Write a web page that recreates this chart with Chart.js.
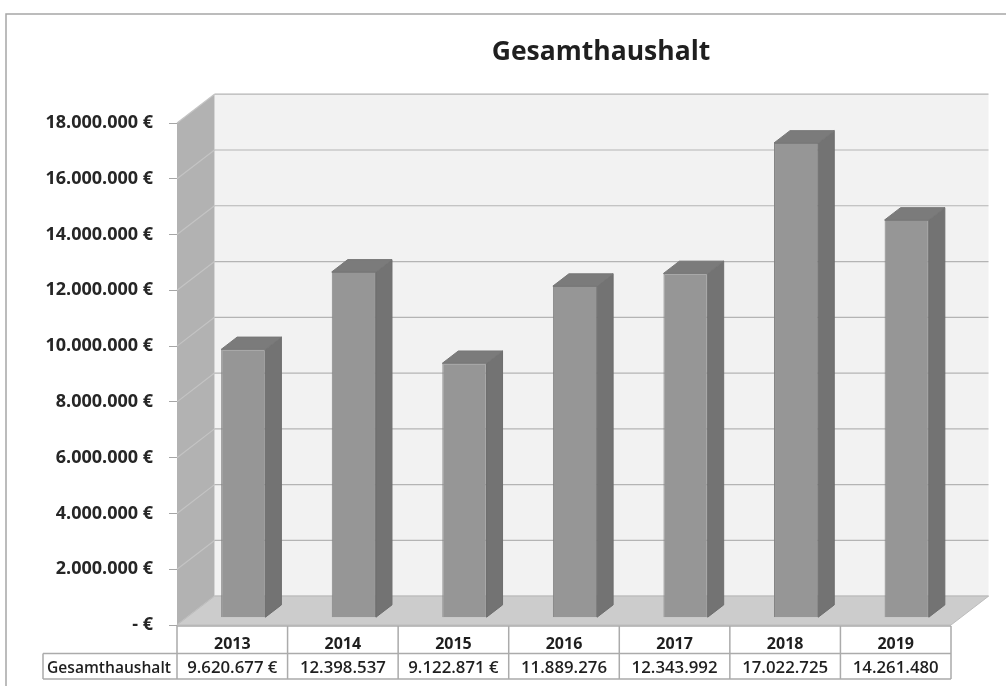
<!DOCTYPE html>
<html>
<head>
<meta charset="utf-8">
<script src="https://cdn.jsdelivr.net/npm/chart.js@4"></script>
<style>
  html, body { margin: 0; padding: 0; background: #fff; }
  canvas { display: block; }
</style>
</head>
<body>
<canvas id="chart" width="1006" height="686"></canvas>
<script>
var chartTitle = 'Gesamthaushalt';
var seriesName = 'Gesamthaushalt';
var years = ['2013', '2014', '2015', '2016', '2017', '2018', '2019'];
var totals = [9620677, 12398537, 9122871, 11889276, 12343992, 17022725, 14261480];
// as printed in the data table (Excel cut some of them off)
var tableLabels = ['9.620.677 €', '12.398.537', '9.122.871 €', '11.889.276', '12.343.992', '17.022.725', '14.261.480'];
var yTickLabels = ['- €', '2.000.000 €', '4.000.000 €', '6.000.000 €', '8.000.000 €', '10.000.000 €',
  '12.000.000 €', '14.000.000 €', '16.000.000 €', '18.000.000 €'];

// fake 3d: depth of the box, and where the bars sit inside it
var DEPTH = { x: 37.5, y: -28.8 };
var BAR_OFF = { x: 11, y: -7.3 };
var BAR_DEPTH = { x: 16, y: -12.3 };

Chart.defaults.font.family = "'Open Sans', sans-serif";
Chart.defaults.color = '#262626';

var box3d = {
  id: 'box3d',
  beforeDraw: function (chart) {
    var ctx = chart.ctx;
    ctx.save();
    ctx.fillStyle = '#fff';
    ctx.fillRect(0, 0, chart.width, chart.height);
    ctx.strokeStyle = '#a6a6a6';
    ctx.lineWidth = 1.5;
    ctx.strokeRect(6, 14, chart.width + 20, chart.height + 20);
    // title
    ctx.fillStyle = '#1f1f1f';
    ctx.font = "bold 26.5px 'Open Sans'";
    ctx.textAlign = 'center';
    ctx.textBaseline = 'alphabetic';
    ctx.fillText(chartTitle, 601, 60);
    ctx.restore();
  },
  beforeDatasetsDraw: function (chart) {
    var ctx = chart.ctx, a = chart.chartArea, y = chart.scales.y;
    var L = a.left, R = a.right, T = a.top, B = a.bottom;
    ctx.save();
    // back wall
    ctx.fillStyle = '#f2f2f2';
    ctx.fillRect(L + DEPTH.x, T + DEPTH.y, R - L, B - T);
    // side wall
    ctx.fillStyle = '#b2b2b2';
    ctx.beginPath();
    ctx.moveTo(L, T);
    ctx.lineTo(L + DEPTH.x, T + DEPTH.y);
    ctx.lineTo(L + DEPTH.x, B + DEPTH.y);
    ctx.lineTo(L, B);
    ctx.closePath();
    ctx.fill();
    // grid lines
    ctx.lineWidth = 1.2;
    y.ticks.forEach(function (t) {
      var py = y.getPixelForValue(t.value);
      ctx.strokeStyle = '#c4c4c4';
      ctx.beginPath();
      ctx.moveTo(L, py);
      ctx.lineTo(L + DEPTH.x, py + DEPTH.y);
      ctx.stroke();
      ctx.strokeStyle = '#b4b4b4';
      ctx.beginPath();
      ctx.moveTo(L + DEPTH.x, py + DEPTH.y);
      ctx.lineTo(R + DEPTH.x, py + DEPTH.y);
      ctx.stroke();
    });
    // floor
    ctx.fillStyle = '#cccccc';
    ctx.strokeStyle = '#bdbdbd';
    ctx.lineWidth = 1;
    ctx.beginPath();
    ctx.moveTo(L, B);
    ctx.lineTo(L + DEPTH.x, B + DEPTH.y);
    ctx.lineTo(R + DEPTH.x, B + DEPTH.y);
    ctx.lineTo(R, B);
    ctx.closePath();
    ctx.fill();
    ctx.stroke();
    ctx.restore();
    // front faces of the bars are drawn by chart.js, pushed into the box
    ctx.save();
    ctx.translate(BAR_OFF.x, BAR_OFF.y);
  },
  afterDatasetsDraw: function (chart) {
    var ctx = chart.ctx;
    ctx.restore();
    ctx.save();
    chart.getDatasetMeta(0).data.forEach(function (bar) {
      var p = bar.getProps(['x', 'y', 'base', 'width'], true);
      var l = p.x - p.width / 2 + BAR_OFF.x, r = p.x + p.width / 2 + BAR_OFF.x;
      var t = p.y + BAR_OFF.y, b = p.base + BAR_OFF.y;
      ctx.lineWidth = 1;
      // side
      ctx.fillStyle = '#737373';
      ctx.strokeStyle = '#6e6e6e';
      ctx.beginPath();
      ctx.moveTo(r, t);
      ctx.lineTo(r + BAR_DEPTH.x, t + BAR_DEPTH.y);
      ctx.lineTo(r + BAR_DEPTH.x, b + BAR_DEPTH.y);
      ctx.lineTo(r, b);
      ctx.closePath();
      ctx.fill();
      ctx.stroke();
      // top
      ctx.fillStyle = '#7b7b7b';
      ctx.strokeStyle = '#777';
      ctx.beginPath();
      ctx.moveTo(l, t);
      ctx.lineTo(l + BAR_DEPTH.x, t + BAR_DEPTH.y);
      ctx.lineTo(r + BAR_DEPTH.x, t + BAR_DEPTH.y);
      ctx.lineTo(r, t);
      ctx.closePath();
      ctx.fill();
      ctx.stroke();
    });
    ctx.restore();
  },
  afterDraw: function (chart) {
    // data table under the plot
    var ctx = chart.ctx, a = chart.chartArea, x = chart.scales.x;
    var colW = (a.right - a.left) / years.length;
    var r0 = a.bottom + 1, r1 = r0 + 27.5, r2 = r1 + 25.5;
    var labelLeft = 43;
    ctx.save();
    ctx.strokeStyle = '#ababab';
    ctx.lineWidth = 1.5;
    ctx.beginPath();
    ctx.moveTo(a.left, r0); ctx.lineTo(a.right, r0);
    ctx.moveTo(labelLeft, r1); ctx.lineTo(a.right, r1);
    ctx.moveTo(labelLeft, r2); ctx.lineTo(a.right, r2);
    ctx.moveTo(labelLeft, r1); ctx.lineTo(labelLeft, r2);
    for (var i = 0; i <= years.length; i++) {
      var cx = a.left + i * colW;
      ctx.moveTo(cx, r0); ctx.lineTo(cx, r2);
    }
    ctx.stroke();
    ctx.fillStyle = '#1f1f1f';
    ctx.textBaseline = 'alphabetic';
    ctx.textAlign = 'center';
    ctx.font = "bold 16px 'Open Sans'";
    years.forEach(function (yr, i) {
      ctx.fillText(yr, x.getPixelForValue(i), r0 + 22.5);
    });
    ctx.font = "600 16.8px 'Open Sans'";
    tableLabels.forEach(function (s, i) {
      ctx.fillText(s, x.getPixelForValue(i), r1 + 19.5);
    });
    ctx.font = "600 15.6px 'Open Sans'";
    ctx.textAlign = 'left';
    ctx.fillText(seriesName, labelLeft + 4, r1 + 19.5);
    ctx.restore();
  }
};

new Chart(document.getElementById('chart'), {
  type: 'bar',
  data: {
    labels: years,
    datasets: [{
      label: seriesName,
      data: totals,
      backgroundColor: '#969696',
      borderColor: '#828282',
      borderWidth: 1,
      barPercentage: 0.4,
      categoryPercentage: 1
    }]
  },
  options: {
    responsive: false,
    animation: false,
    devicePixelRatio: 1,
    layout: { padding: { left: 0, right: 55, top: 123, bottom: 61 } },
    plugins: {
      legend: { display: false },
      title: { display: false },
      tooltip: { enabled: false }
    },
    scales: {
      x: { display: false },
      y: {
        min: 0,
        max: 18000000,
        afterFit: function (scale) { scale.width = 177; },
        ticks: {
          stepSize: 2000000,
          padding: 16,
          color: '#262626',
          font: { size: 18, weight: 'bold' },
          callback: function (v, i) { return yTickLabels[i]; }
        },
        grid: { drawOnChartArea: false, drawTicks: true, tickLength: 8, color: '#a6a6a6' },
        border: { display: false }
      }
    }
  },
  plugins: [box3d]
});
</script>
</body>
</html>
